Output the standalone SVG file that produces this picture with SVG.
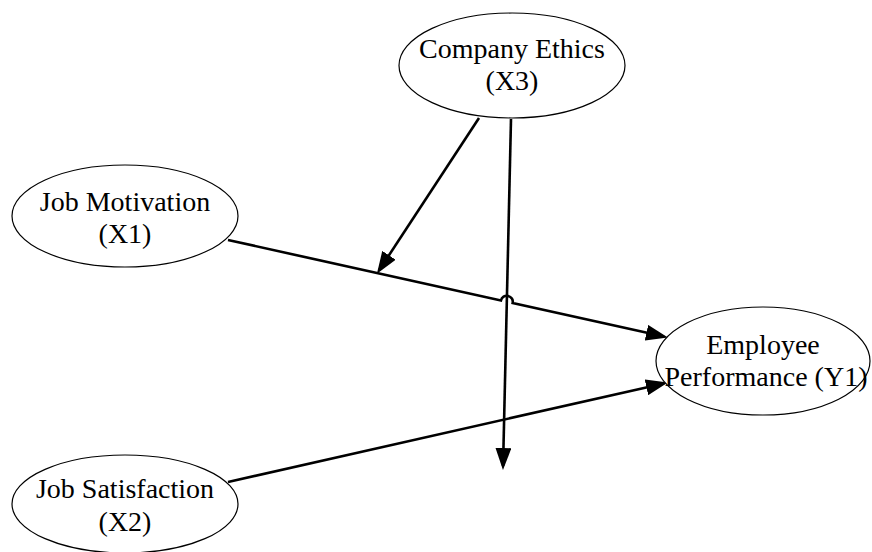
<svg xmlns="http://www.w3.org/2000/svg" width="872" height="552" viewBox="0 0 872 552">
<style>
.node ellipse{fill:#fff;stroke:#000;stroke-width:1.2}
.node text{font-family:"Liberation Serif","Times New Roman",serif;font-size:28px;fill:#000;text-anchor:middle}
.edge{fill:none;stroke:#000;stroke-width:2.6}
</style>
<defs>
<marker id="ah" markerUnits="userSpaceOnUse" markerWidth="22" markerHeight="16" refX="18" refY="8" orient="auto" viewBox="0 0 22 16">
<path d="M0,0 L22,8 L0,16 z" fill="#000"/>
</marker>
</defs>
<rect width="872" height="552" fill="#fff"/>
<g id="connectors">
<path class="edge" d="M228,240 L500.94,300.45 A6,6 0 0 1 512.66,303.05 L664,336.6" marker-end="url(#ah)"/>
<path class="edge" d="M479,118 L379.1,270.3" marker-end="url(#ah)"/>
<path class="edge" d="M511,119 L503.05,466" marker-end="url(#ah)"/>
<path class="edge" d="M228,482 L664,383.4" marker-end="url(#ah)"/>
</g>
<g id="company-ethics" class="node">
<ellipse cx="512" cy="65.5" rx="113" ry="52.5"/>
<text x="512" y="58">Company Ethics</text>
<text x="512" y="90">(X3)</text>
</g>
<g id="job-motivation" class="node">
<ellipse cx="125" cy="216" rx="113" ry="51"/>
<text x="125" y="211">Job Motivation</text>
<text x="125" y="243">(X1)</text>
</g>
<g id="employee-performance" class="node">
<ellipse cx="763" cy="361" rx="107" ry="54"/>
<text x="763" y="354">Employee</text>
<text x="766" y="386">Performance (Y1)</text>
</g>
<g id="job-satisfaction" class="node">
<ellipse cx="125" cy="504" rx="113" ry="49"/>
<text x="125" y="498">Job Satisfaction</text>
<text x="125" y="531">(X2)</text>
</g>
</svg>
